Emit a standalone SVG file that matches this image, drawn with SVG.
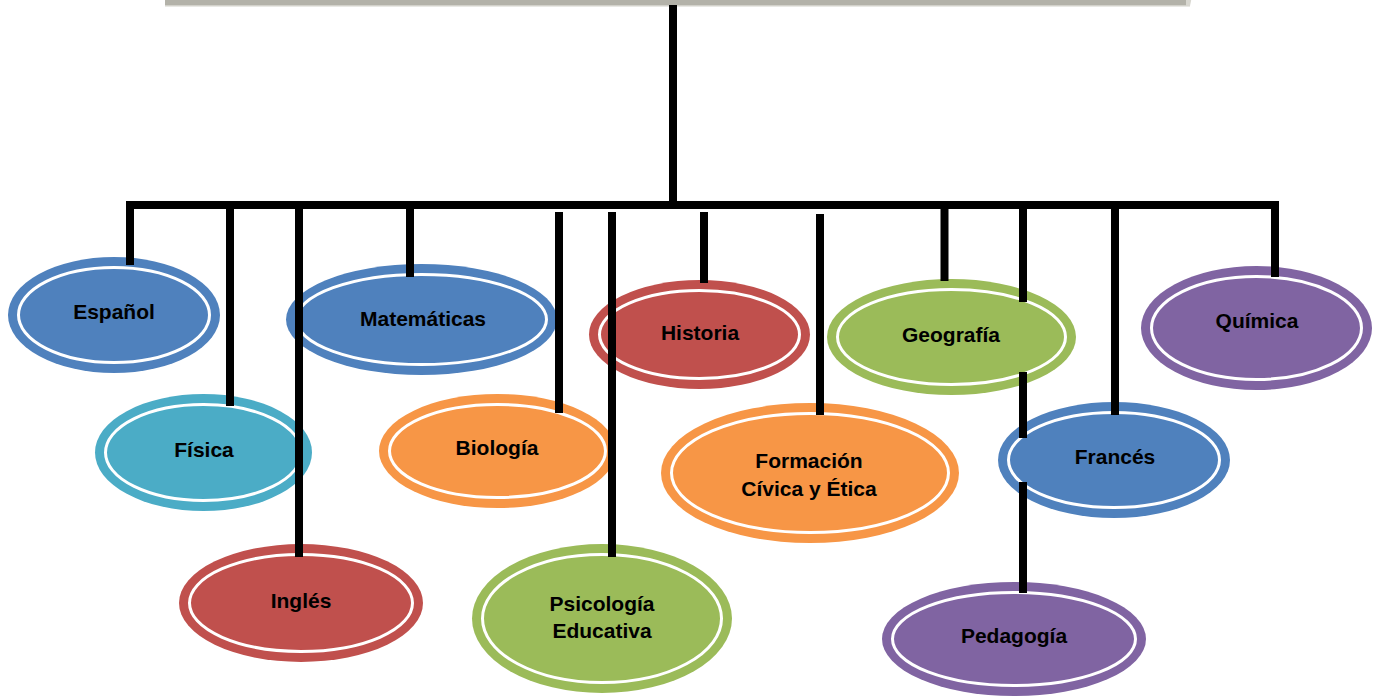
<svg xmlns="http://www.w3.org/2000/svg" width="1380" height="696" viewBox="0 0 1380 696">
<style>
.blue{fill:#4f81bd}
.teal{fill:#4bacc6}
.red{fill:#c0504d}
.orange{fill:#f79646}
.green{fill:#9bbb59}
.purple{fill:#8064a2}
.ring{stroke:#ffffff;stroke-width:3}
text{font-family:"Liberation Sans",Arial,sans-serif;font-weight:bold;font-size:21px;fill:#000;text-anchor:middle}
.conn{fill:none;stroke:#000;stroke-width:8;stroke-linecap:butt;stroke-linejoin:miter}
</style>
<rect width="1380" height="696" fill="#ffffff"/>
<g id="title-bar">
<rect x="165" y="-4" width="1025" height="10" fill="#b3b2a9"/>
<rect x="165" y="5" width="1025" height="1.5" fill="#d2d1ca"/>
<polygon points="1186,-4 1192,-4 1190,6 1186,6" fill="#d8d7d0"/>
</g>
<g id="node-espanol">
<ellipse class="blue" cx="114" cy="315" rx="106" ry="58"/>
<ellipse class="blue ring" cx="114" cy="315" rx="95.5" ry="47.5"/>
<text x="114" y="319">Español</text>
</g>
<g id="node-fisica">
<ellipse class="teal" cx="203.5" cy="452.5" rx="108.5" ry="58.5"/>
<ellipse class="teal ring" cx="203.5" cy="452.5" rx="98" ry="48"/>
<text x="204" y="457">Física</text>
</g>
<g id="node-ingles">
<ellipse class="red" cx="301" cy="603" rx="122" ry="59"/>
<ellipse class="red ring" cx="301" cy="603" rx="111.5" ry="48.5"/>
<text x="301" y="608">Inglés</text>
</g>
<g id="node-matematicas">
<ellipse class="blue" cx="421.5" cy="319.5" rx="135.5" ry="55.5"/>
<ellipse class="blue ring" cx="421.5" cy="319.5" rx="125" ry="45"/>
<text x="423" y="326">Matemáticas</text>
</g>
<g id="node-biologia">
<ellipse class="orange" cx="497.5" cy="451" rx="118.5" ry="57"/>
<ellipse class="orange ring" cx="497.5" cy="451" rx="108" ry="46.5"/>
<text x="497" y="455">Biología</text>
</g>
<g id="node-psicologia">
<ellipse class="green" cx="602" cy="618.5" rx="130" ry="74.5"/>
<ellipse class="green ring" cx="602" cy="618.5" rx="119.5" ry="64"/>
<text x="602" y="611">Psicología</text>
<text x="602" y="638">Educativa</text>
</g>
<g id="node-historia">
<ellipse class="red" cx="699.5" cy="334.5" rx="110.5" ry="54.5"/>
<ellipse class="red ring" cx="699.5" cy="334.5" rx="100" ry="44"/>
<text x="700" y="340">Historia</text>
</g>
<g id="node-formacion">
<ellipse class="orange" cx="810" cy="473" rx="149" ry="70"/>
<ellipse class="orange ring" cx="810" cy="473" rx="138.5" ry="59.5"/>
<text x="809" y="468">Formación</text>
<text x="809" y="496">Cívica y Ética</text>
</g>
<g id="node-geografia">
<ellipse class="green" cx="951.5" cy="337" rx="124.5" ry="58"/>
<ellipse class="green ring" cx="951.5" cy="337" rx="114" ry="47.5"/>
<text x="951" y="342">Geografía</text>
</g>
<g id="node-frances">
<ellipse class="blue" cx="1114" cy="460" rx="116" ry="58"/>
<ellipse class="blue ring" cx="1114" cy="460" rx="105.5" ry="47.5"/>
<text x="1115" y="464">Francés</text>
</g>
<g id="node-pedagogia">
<ellipse class="purple" cx="1014" cy="639" rx="132" ry="57"/>
<ellipse class="purple ring" cx="1014" cy="639" rx="121.5" ry="46.5"/>
<text x="1014" y="643">Pedagogía</text>
</g>
<g id="node-quimica">
<ellipse class="purple" cx="1256.5" cy="328" rx="115.5" ry="62"/>
<ellipse class="purple ring" cx="1256.5" cy="328" rx="105" ry="51.5"/>
<text x="1257" y="328">Química</text>
</g>
<g id="connectors">
<path class="conn" d="M673 5 V205"/>
<path class="conn" d="M130 265 V205 H1275 V277"/>
<path class="conn" d="M230 209 V406"/>
<path class="conn" d="M299 209 V557"/>
<path class="conn" d="M410 209 V277"/>
<path class="conn" d="M559 212 V413"/>
<path class="conn" d="M612 212 V557"/>
<path class="conn" d="M704 212 V283"/>
<path class="conn" d="M820 214 V415"/>
<path class="conn" d="M944.5 209 V281"/>
<path class="conn" d="M1023 209 V302 M1023 372 V438 M1023 482 V593"/>
<path class="conn" d="M1115 209 V415"/>
</g>
</svg>
